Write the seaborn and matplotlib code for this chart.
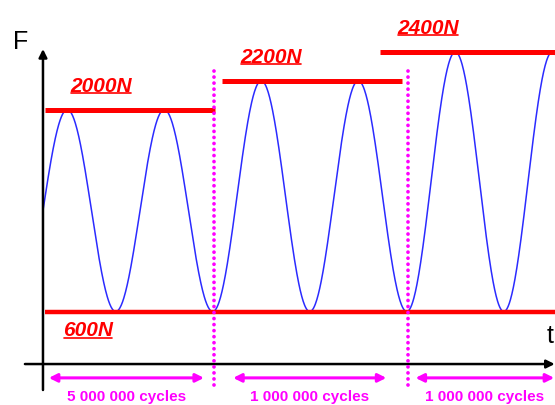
import numpy as np
import pandas as pd
import matplotlib
matplotlib.use("Agg")
import matplotlib.pyplot as plt
from matplotlib.lines import Line2D
import seaborn as sns

# Load levels (N) and the block structure of the test
peak_forces = [2000, 2200, 2400]
min_force = 600
peak_labels = ["2000N", "2200N", "2400N"]
min_label = "600N"
block_periods = [1.75, 2.0, 1.55]          # drawn oscillation periods per block
block_labels = ["5 000 000 cycles", "1 000 000 cycles", "1 000 000 cycles"]

sns.set_style("white")
plt.rcParams["font.family"] = ["Liberation Sans", "DejaVu Sans"]

fig = plt.figure(figsize=(5.55, 4.05), dpi=100)
ax = fig.add_axes([0, 0, 1, 1])
ax.set_xlim(-0.443, 5.278)
ax.set_ylim(-48, 2760)
ax.axis("off")

RED = "#ff0000"
BLUE = "#2b2bff"
MAGENTA = "#ff00ff"

# Build the sinusoidal load history block by block
frames = []
starts = np.concatenate([[0], np.cumsum(block_periods)[:-1]])
for i, (u0, n, hi) in enumerate(zip(starts, block_periods, peak_forces)):
    u = np.linspace(u0, u0 + n, 400)
    phase = np.pi / 2 if i == 0 else 0.0
    f = min_force + (hi - min_force) / 2 * (1 - np.cos(2 * np.pi * (u - u0) + phase))
    frames.append(pd.DataFrame({"t": u, "F": f, "block": i}))
load = pd.concat(frames, ignore_index=True)

sns.lineplot(data=load, x="t", y="F", units="block", estimator=None,
             color=BLUE, lw=1.1, ax=ax, legend=False)

# Peak and minimum load levels
peak_spans = [(0.02, 1.77), (1.845, 3.70), (3.474, 5.4)]
for (a, b), hi in zip(peak_spans, peak_forces):
    ax.plot([a, b], [hi, hi], color=RED, lw=3.6, solid_capstyle="butt", zorder=3)
ax.plot([0.02, 5.4], [min_force, min_force], color=RED, lw=3.2,
        solid_capstyle="butt", zorder=3)

# Block boundaries
bounds = np.cumsum(block_periods)[:-1]
for b in bounds:
    ax.plot([b + 0.01, b + 0.01], [91, 2275], color=MAGENTA, lw=2.7,
            linestyle=(0, (0.01, 1.6)), dash_capstyle="round", zorder=4)

# Axes arrows
ax.annotate("", xy=(0, 2420), xytext=(0, 56), annotation_clip=False,
            arrowprops=dict(arrowstyle="-|>", color="black", lw=1.8,
                            mutation_scale=12, shrinkA=0, shrinkB=0))
ax.annotate("", xy=(5.275, 236), xytext=(-0.186, 236), annotation_clip=False,
            arrowprops=dict(arrowstyle="-|>", color="black", lw=1.8,
                            mutation_scale=12, shrinkA=0, shrinkB=0))
ax.text(-0.227, 2469, "F", fontsize=18, ha="center", va="center", color="black")
ax.text(5.225, 430, "t", fontsize=18, ha="center", va="center", color="black")

# Block length arrows and labels
arrow_spans = [(0.06, 1.66), (1.96, 3.54), (3.84, 5.27)]
for (a, b), lab in zip(arrow_spans, block_labels):
    ax.annotate("", xy=(b, 140), xytext=(a, 140), annotation_clip=False,
                arrowprops=dict(arrowstyle="<|-|>", color=MAGENTA, lw=2.2,
                                mutation_scale=12, shrinkA=0, shrinkB=0))
    ax.text((a + b) / 2, 7, lab, fontsize=11, fontweight="bold",
            color=MAGENTA, ha="center", va="center")

# Level labels, underlined
label_x = [0.6, 2.35, 3.97]
texts = []
for x, hi, lab in zip(label_x, peak_forces, peak_labels):
    texts.append(ax.annotate(lab, xy=(x, hi), xytext=(0, 17), textcoords="offset points",
                             fontsize=15, fontweight="bold", fontstyle="italic",
                             color=RED, ha="center", va="center"))
texts.append(ax.annotate(min_label, xy=(0.465, min_force), xytext=(0, -14),
                         textcoords="offset points", fontsize=15, fontweight="bold",
                         fontstyle="italic", color=RED, ha="center", va="center"))

fig.canvas.draw()
renderer = fig.canvas.get_renderer()
W, H = fig.bbox.width, fig.bbox.height
for t in texts:
    bb = t.get_window_extent(renderer)
    y = (bb.y0 + 2.5) / H
    fig.add_artist(Line2D([(bb.x0 + 1) / W, (bb.x1 - 1) / W], [y, y],
                          transform=fig.transFigure, color=RED, lw=1.2))

fig.savefig("out.png", dpi=100, facecolor="white")
